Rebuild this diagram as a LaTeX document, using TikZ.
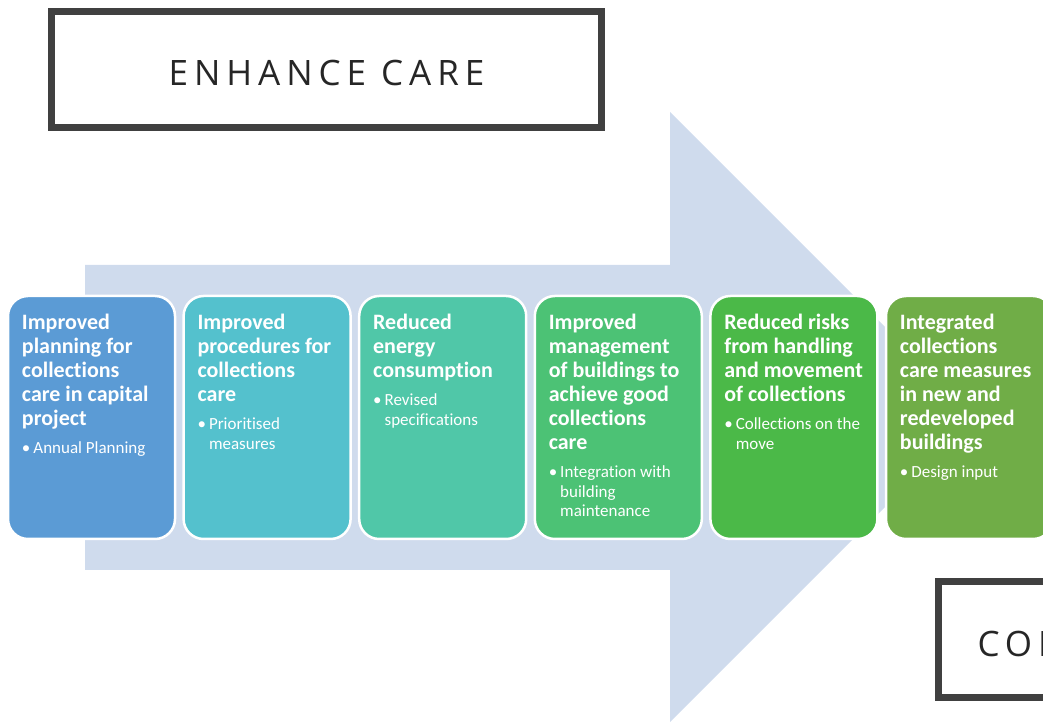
\documentclass[tikz,border=0pt]{standalone}
\usepackage{fontspec}
\setmainfont[Ligatures={NoCommon}]{Carlito}
\newfontfamily\headfont[LetterSpace=17]{Open Sans}
\usetikzlibrary{positioning}
\definecolor{arrowfill}{RGB}{207,219,237}
\definecolor{framegray}{RGB}{64,64,64}
\definecolor{headtext}{RGB}{38,38,38}
\definecolor{stepA}{RGB}{91,155,213}
\definecolor{stepB}{RGB}{84,193,205}
\definecolor{stepC}{RGB}{80,199,168}
\definecolor{stepD}{RGB}{76,194,117}
\definecolor{stepE}{RGB}{75,185,72}
\definecolor{stepF}{RGB}{112,173,71}
\newcommand{\bitem}[1]{\textbullet\hspace{3pt}\begin{tabular}[t]{@{}l@{}}#1\end{tabular}}
\tikzset{
  headbox/.style={draw=framegray, line width=7pt, text=headtext,
    text height=33pt, text depth=0pt,
    font=\headfont\fontsize{35}{40}\selectfont},
  stepbox/.style={draw=white, line width=2.5pt, rounded corners=20pt,
    minimum width=167pt, minimum height=243pt, inner sep=0pt},
  steptitle/.style={anchor=north west, inner sep=0pt, align=left, text=white,
    font=\bfseries\fontsize{22}{24}\selectfont,
    execute at begin node=\strut, execute at end node=\strut},
  stepitem/.style={anchor=north west, inner sep=0pt, text=white,
    font=\fontsize{17}{19.5}\selectfont},
}
\begin{document}
\begin{tikzpicture}[x=1pt,y=1pt]
\useasboundingbox (0,0) rectangle (1043,722);
\clip (0,0) rectangle (1043,722);
\fill[arrowfill] (85,152) -- (670,152) -- (670,0) -- (975,305) -- (670,610) -- (670,457) -- (85,457) -- cycle;
\node[headbox, minimum width=550pt, minimum height=116pt] (enhance) at (326.5,652.5) {ENHANCE CARE};
\node[headbox, anchor=north west, minimum height=115.5pt, text width=200pt,
  inner xsep=39.5pt, align=left] (control) at (934.5,143.5) {CON};
\foreach \i/\col/\head/\items in {
    0/stepA/{Improved\\planning for\\collections\\care in capital\\project}/{Annual Planning},
    1/stepB/{Improved\\procedures for\\collections\\care}/{Prioritised\\measures},
    2/stepC/{Reduced\\energy\\consumption}/{Revised\\specifications},
    3/stepD/{Improved\\management\\of buildings to\\achieve good\\collections\\care}/{Integration with\\building\\maintenance},
    4/stepE/{Reduced risks\\from handling\\and movement\\of collections}/{Collections on the\\move},
    5/stepF/{Integrated\\collections\\care measures\\in new and\\redeveloped\\buildings}/{Design input}}
{
    \node[stepbox, fill=\col] (b\i) at (91.5+175.6*\i,304.5) {};
    \node[steptitle, xshift=15pt, yshift=-19pt] (t\i) at (b\i.north west) {\head};
    \node[stepitem, yshift=-7pt] (p\i) at (t\i.south west) {\bitem{\items}};
}
\end{tikzpicture}
\end{document}
